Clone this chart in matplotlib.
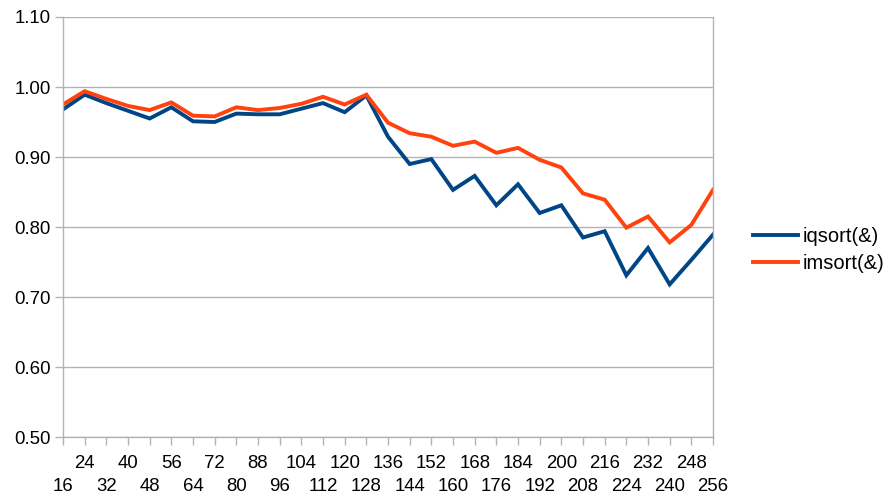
import matplotlib
matplotlib.use("Agg")
import matplotlib.pyplot as plt

sizes = list(range(16, 257, 8))
iqsort = [0.968, 0.989, 0.977, 0.966, 0.955, 0.971, 0.951, 0.950, 0.962, 0.961,
          0.961, 0.969, 0.977, 0.964, 0.988, 0.929, 0.890, 0.897, 0.853, 0.873,
          0.831, 0.861, 0.820, 0.831, 0.785, 0.794, 0.731, 0.770, 0.718, 0.753,
          0.789]
imsort = [0.975, 0.994, 0.983, 0.973, 0.967, 0.978, 0.959, 0.958, 0.971, 0.967,
          0.970, 0.976, 0.986, 0.975, 0.989, 0.949, 0.934, 0.929, 0.916, 0.922,
          0.906, 0.913, 0.896, 0.885, 0.848, 0.839, 0.799, 0.815, 0.778, 0.803,
          0.853]
yticks = [0.50, 0.60, 0.70, 0.80, 0.90, 1.00, 1.10]

plt.rcParams['font.family'] = ['Liberation Sans', 'DejaVu Sans']

W, H = 887, 498
fig = plt.figure(figsize=(W / 100, H / 100), dpi=100)
ax = fig.add_axes([63 / W, 1 - 437 / H, 650 / W, 420 / H])

x = list(range(len(sizes)))
l1, = ax.plot(x, iqsort, color='#004586', lw=2.8, solid_joinstyle='miter', label='iqsort(&)')
l2, = ax.plot(x, imsort, color='#ff420e', lw=2.8, solid_joinstyle='miter', label='imsort(&)')

ax.set_xlim(0, len(sizes) - 1)
ax.set_ylim(0.5, 1.1)
ax.set_yticks(yticks)
ax.set_yticklabels([f"{v:.2f}" for v in yticks])

odd_x = [i for i in x if i % 2 == 1]
even_x = [i for i in x if i % 2 == 0]
ax.set_xticks(odd_x)
ax.set_xticklabels([str(sizes[i]) for i in odd_x])
ax.set_xticks(even_x, minor=True)
ax.set_xticklabels([str(sizes[i]) for i in even_x], minor=True)

ax.tick_params(axis='both', which='both', labelsize=13.4, colors='#b3b3b3',
               labelcolor='black', length=5.8, width=1)
ax.tick_params(axis='x', which='major', pad=7)
ax.tick_params(axis='x', which='minor', pad=23.5)
ax.tick_params(axis='y', pad=3)
ax.grid(axis='y', color='#b3b3b3', lw=1)
ax.set_axisbelow(True)
for s in ax.spines.values():
    s.set_color('#b3b3b3')
    s.set_linewidth(1)
ax.spines['top'].set_visible(False)

fig.legend(handles=[l1, l2], loc='center left', bbox_to_anchor=(753 / W, 1 - 250 / H),
           frameon=False, fontsize=14.5, handlelength=2.25, handletextpad=0.2,
           labelspacing=0.4, borderpad=0, borderaxespad=0)

fig.savefig("out.png", dpi=100)
